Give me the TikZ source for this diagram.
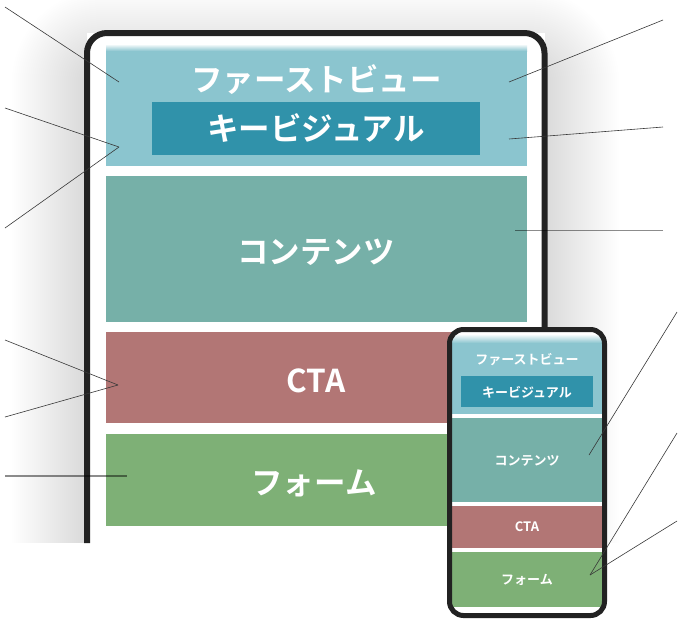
\documentclass[tikz,border=0pt]{standalone}
\usepackage{fontspec}
\newfontfamily\jp{Noto Sans CJK JP Bold}
\definecolor{fvcol}{HTML}{8BC5CF}
\definecolor{kvcol}{HTML}{3092AA}
\definecolor{ctcol}{HTML}{76B0A8}
\definecolor{ctacol}{HTML}{B27675}
\definecolor{fmcol}{HTML}{7EB076}
\definecolor{framecol}{HTML}{222222}
\tikzset{
  blk/.style={inner sep=0pt, outer sep=0pt, draw=none},
  bigtxt/.style={text=white, font=\jp\fontsize{31.5}{31.5}\selectfont, inner sep=0pt},
  smalltxt/.style={text=white, font=\jp\fontsize{13}{13}\selectfont, inner sep=0pt},
  conn/.style={draw=black!78, line width=0.6pt},
  gconn/.style={draw=black, opacity=0.45, line width=1.3pt},
  frm/.style={draw=framecol, line width=6pt},
  pfrm/.style={draw=framecol, line width=5pt, rounded corners=14pt}
}
\begin{document}
\begin{tikzpicture}[x=1pt,y=-1pt]
\useasboundingbox (0,0) rectangle (682,622);
% blurred shadow of the tablet (left and right of it only)
\begin{scope}
\clip (0,0) rectangle (87,543) (544.5,0) rectangle (682,543) (87,0) rectangle (544.5,33);
\foreach \i [evaluate=\i as \r using 20+\i] in {0,2,...,72}
  \fill[black, opacity=0.0046, rounded corners=\r pt] (84-\i,62-\i) rectangle (547+\i,720+\i);
\end{scope}
% tablet
\fill[white] (87,33) rectangle (544.5,543);
\draw[frm, rounded corners=20pt] (87,543) -- (87,33) -- (544.5,33) -- (544.5,543);
% tablet blocks
\node[blk, fill=fvcol, minimum width=421pt, minimum height=119pt] (fv) at (316.5,106.5) {};
\shade[top color=white, bottom color=fvcol] (106,44) rectangle (527,51);
\node[blk, fill=kvcol, minimum width=328pt, minimum height=53pt] (kv) at (316,128.5) {};
\node[blk, fill=ctcol, minimum width=421pt, minimum height=146pt] (ct) at (316.5,249) {};
\node[blk, fill=ctacol, minimum width=421pt, minimum height=91pt] (cta) at (316.5,377.5) {};
\node[blk, fill=fmcol, minimum width=421pt, minimum height=92pt] (fm) at (316.5,480) {};
\node[bigtxt] (fvt) at (316.5,80) {ファーストビュー};
\node[bigtxt] (kvt) at (316,128) {キービジュアル};
\node[bigtxt] (ctt) at (316,252) {コンテンツ};
\node[bigtxt] (ctat) at (316,381) {CTA};
\node[bigtxt] (fmt) at (314,483) {フォーム};
% left connectors
\coordinate (l1) at (5,7);
\coordinate (l2) at (5,108);
\coordinate (l3) at (5,228);
\coordinate (l4) at (5,340);
\coordinate (l5) at (5,417);
\coordinate (l6) at (5,476);
\coordinate (afv) at (119,82);
\coordinate (akv) at (119,147);
\coordinate (acta) at (118,385);
\coordinate (afm) at (127,476);
\draw[conn] (l1) -- (afv);
\draw[conn] (l2) -- (akv);
\draw[conn] (l3) -- (akv);
\draw[conn] (l4) -- (acta);
\draw[conn] (l5) -- (acta);
\draw[gconn] (l6) -- (afm);
% right connectors to tablet
\coordinate (r1) at (663,20);
\coordinate (r2) at (663,127);
\coordinate (r3) at (663,230.5);
\coordinate (bfv) at (509,82);
\coordinate (bkv) at (509,139);
\coordinate (bct) at (515,230.5);
\draw[conn] (r1) -- (bfv);
\draw[conn] (r2) -- (bkv);
\draw[gconn] (r3) -- (bct);
% phone
\fill[white, rounded corners=14pt] (449.5,329.5) rectangle (604.5,615.5);
\shade[top color=white, bottom color=fvcol] (452,334) rectangle (602,343);
\node[blk, fill=fvcol, minimum width=150pt, minimum height=71pt] (pfv) at (527,378.5) {};
\node[blk, fill=kvcol, minimum width=132pt, minimum height=31pt] (pkv) at (527,391.5) {};
\node[blk, fill=ctcol, minimum width=150pt, minimum height=84pt] (pct) at (527,460) {};
\node[blk, fill=ctacol, minimum width=150pt, minimum height=42pt] (pcta) at (527,527) {};
\node[blk, fill=fmcol, minimum width=150pt, minimum height=55pt] (pfm) at (527,579.5) {};
\draw[pfrm] (449.5,329.5) rectangle (604.5,615.5);
\node[smalltxt] (pfvt) at (527,360) {ファーストビュー};
\node[smalltxt] (pkvt) at (527,392) {キービジュアル};
\node[smalltxt] (pctt) at (527,461) {コンテンツ};
\node[smalltxt] (pctat) at (527,527) {CTA};
\node[smalltxt] (pfmt) at (527,580) {フォーム};
% right connectors to phone
\coordinate (r4) at (677,312);
\coordinate (r5) at (677,433);
\coordinate (r6) at (677,521);
\coordinate (cpct) at (589,455);
\coordinate (cpfm) at (590,575);
\draw[conn] (r4) -- (cpct);
\draw[conn] (r5) -- (cpfm);
\draw[conn] (r6) -- (cpfm);
\end{tikzpicture}
\end{document}
